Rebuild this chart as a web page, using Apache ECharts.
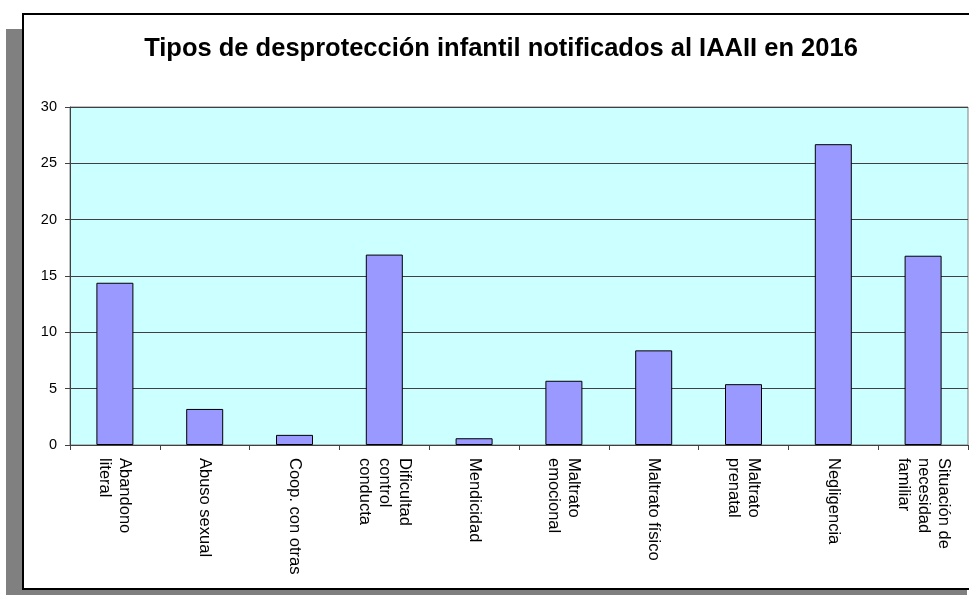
<!DOCTYPE html>
<html>
<head>
<meta charset="utf-8">
<script src="https://cdn.jsdelivr.net/npm/echarts@6/dist/echarts.min.js"></script>
<style>
  html, body { margin: 0; padding: 0; background: #fff; }
  #chart { width: 969px; height: 595px; }
</style>
</head>
<body>
<div id="chart"></div>
<script>
var categories = [
  'Abandono\nliteral',
  'Abuso sexual',
  'Coop. con otras',
  'Dificultad\ncontrol\nconducta',
  'Mendicidad',
  'Maltrato\nemocional',
  'Maltrato físico',
  'Maltrato\nprenatal',
  'Negligencia',
  'Situación de\nnecesidad\nfamiliar'
];
var values = [14.4, 3.2, 0.9, 16.9, 0.6, 5.7, 8.4, 5.4, 26.7, 16.8];

var fontFamily = '"Liberation Sans", Arial, sans-serif';
var barColor = '#9999FF';
var plotColor = '#CCFFFF';

var myChart = echarts.init(document.getElementById('chart'));

myChart.setOption({
  animation: false,
  backgroundColor: '#fff',
  graphic: [
    // grey drop shadow behind the frame
    { type: 'rect', z: -10, shape: { x: 6, y: 29, width: 961, height: 570 }, style: { fill: '#808080' } },
    // white chart frame (its right side is cut off by the picture edge)
    { type: 'rect', z: -9, shape: { x: 23, y: 14, width: 960, height: 575 }, style: { fill: '#fff', stroke: '#000', lineWidth: 2 } }
  ],
  title: {
    text: 'Tipos de desprotección infantil notificados al IAAII en 2016',
    left: 496,
    top: 31,
    textAlign: 'center',
    textStyle: { fontFamily: fontFamily, fontSize: 25.5, fontWeight: 'bold', color: '#000' }
  },
  grid: {
    left: 70,
    top: 107,
    right: 1,
    bottom: 150,
    show: true,
    backgroundColor: plotColor,
    borderColor: '#808080',
    borderWidth: 1
  },
  xAxis: {
    type: 'category',
    data: categories,
    axisLine: { lineStyle: { color: '#404040', width: 1 } },
    axisTick: { show: true, length: 5, lineStyle: { color: '#404040' } },
    axisLabel: {
      interval: 0,
      rotate: -90,
      margin: 13,
      fontFamily: fontFamily,
      fontSize: 16.5,
      lineHeight: 20,
      color: '#000'
    }
  },
  yAxis: {
    type: 'value',
    min: 0,
    max: 30,
    interval: 5,
    axisLine: { show: true, lineStyle: { color: '#404040', width: 1 } },
    axisTick: { show: true, length: 5, lineStyle: { color: '#404040' } },
    splitLine: { lineStyle: { color: '#404040', width: 1 } },
    axisLabel: { margin: 13, fontFamily: fontFamily, fontSize: 14.5, color: '#000' }
  },
  series: [
    {
      type: 'bar',
      data: values,
      barWidth: 37,
      itemStyle: { color: barColor, borderColor: '#000', borderWidth: 1 }
    }
  ]
});
</script>
</body>
</html>
